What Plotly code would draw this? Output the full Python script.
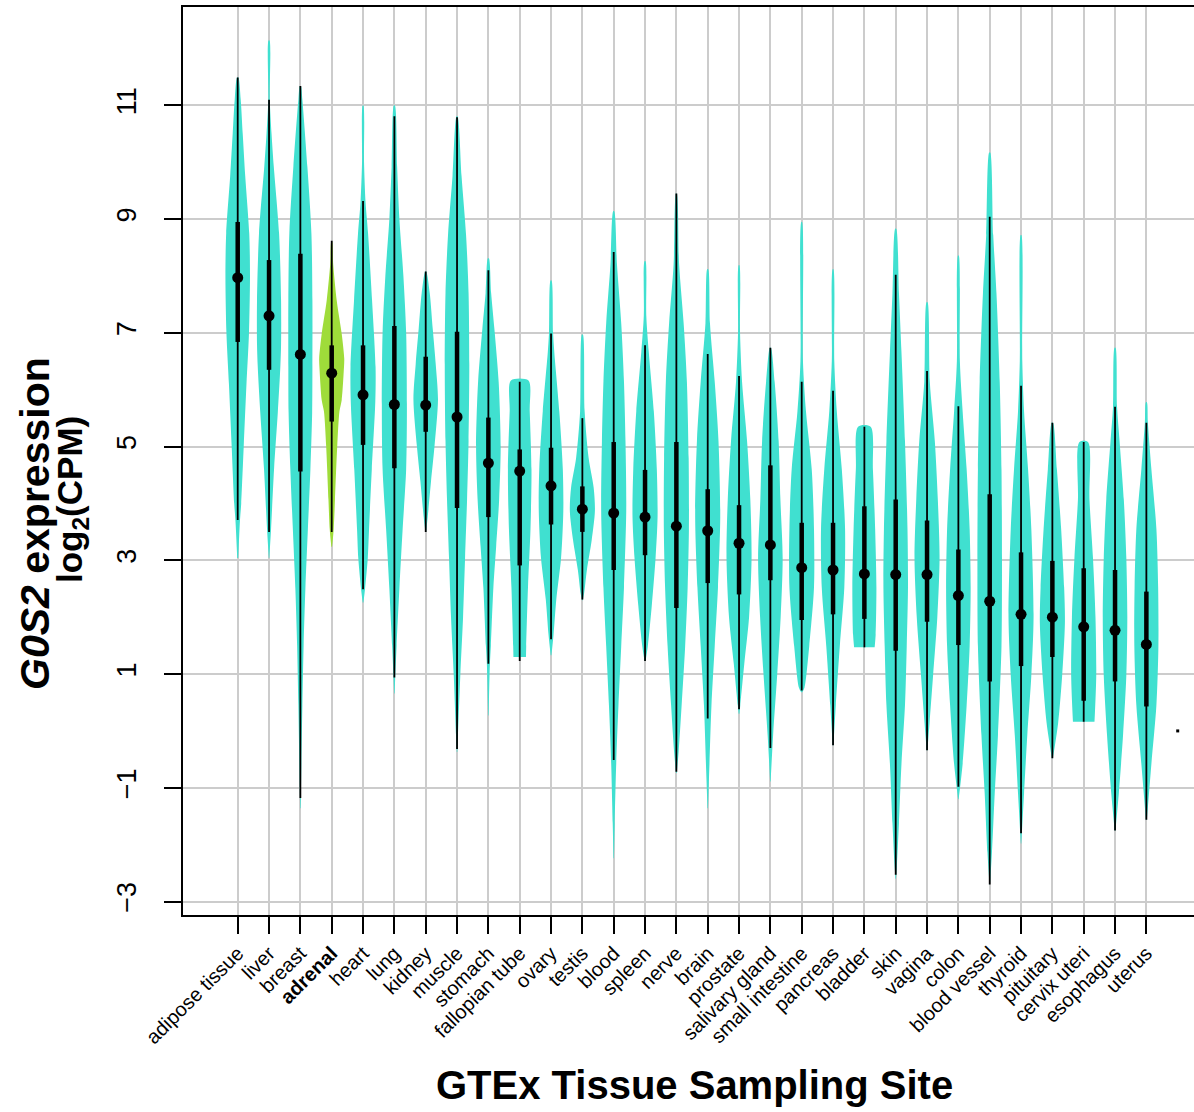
import plotly.graph_objects as go

tissues = ["adipose tissue", "liver", "breast", "adrenal", "heart", "lung", "kidney", "muscle",
           "stomach", "fallopian tube", "ovary", "testis", "blood", "spleen", "nerve", "brain",
           "prostate", "salivary gland", "small intestine", "pancreas", "bladder", "skin",
           "vagina", "colon", "blood vessel", "thyroid", "pituitary", "cervix uteri",
           "esophagus", "uterus"]
highlight = "adrenal"

medians = [7.97, 7.30, 6.62, 6.29, 5.91, 5.74, 5.73, 5.52, 4.71, 4.57, 4.31, 3.90, 3.83, 3.76, 3.60,
           3.52, 3.30, 3.27, 2.87, 2.83, 2.76, 2.75, 2.75, 2.38, 2.28, 2.05, 2.00, 1.83, 1.77, 1.52]
q1 = [6.84, 6.35, 4.56, 5.44, 5.03, 4.62, 5.26, 3.92, 3.76, 2.91, 3.63, 3.50, 2.83, 3.09, 2.16,
      2.60, 2.40, 2.65, 1.95, 2.05, 1.97, 1.41, 1.92, 1.51, 0.87, 1.14, 1.30, 0.53, 0.87, 0.43]
q3 = [8.95, 8.28, 8.39, 6.78, 6.78, 7.12, 6.58, 7.02, 5.51, 4.95, 4.98, 4.30, 5.08, 4.59, 5.08,
      4.25, 3.97, 4.67, 3.66, 3.66, 3.95, 4.07, 3.70, 3.19, 4.16, 3.14, 2.99, 2.86, 2.83, 2.45]
whisker_lo = [3.71, 3.50, -1.18, 3.50, 2.49, 0.94, 3.50, -0.32, 1.18, 1.23, 1.61, 2.31, -0.51, 1.23,
              -0.72, 0.22, 0.38, -0.30, 0.71, -0.25, 1.47, -2.53, -0.34, -0.98, -2.70, -1.80,
              -0.48, 0.16, -1.75, -1.56]
whisker_hi = [11.49, 11.10, 11.34, 8.62, 9.32, 10.81, 8.08, 10.79, 8.10, 6.14, 6.99, 5.50, 8.42,
              6.78, 9.45, 6.63, 6.24, 6.74, 6.14, 5.98, 5.35, 8.02, 6.33, 5.71, 9.04, 6.07, 5.42,
              5.08, 5.70, 5.42]

# violin outlines: expression levels (bottom -> top) and relative density at each level
violin_levels = [
    [3.04, 3.7, 4.0, 5.0, 6.1, 7.0, 8.0, 8.75, 9.76, 10.5, 11.1, 11.49],
    [3.04, 3.55, 4.6, 5.6, 6.4, 6.8, 7.57, 8.75, 9.92, 10.5, 11.1, 12.14],
    [-1.36, -0.6, 0.45, 1.5, 2.5, 3.55, 4.6, 5.6, 6.4, 7.57, 8.75, 9.92, 11.1, 11.34],
    [3.24, 3.55, 4.07, 5.0, 5.62, 5.82, 6.4, 6.55, 6.98, 7.57, 8.2, 8.6],
    [2.26, 2.5, 3.04, 3.55, 4.6, 5.8, 6.4, 7.57, 8.75, 9.3, 10.0, 11.0],
    [0.66, 0.9, 1.5, 2.5, 3.55, 4.6, 5.7, 7.0, 8.0, 9.0, 9.92, 11.0],
    [3.5, 3.76, 4.38, 5.0, 5.83, 6.45, 7.07, 7.7, 8.08],
    [-0.37, -0.07, 0.97, 2.0, 3.04, 4.07, 5.1, 6.45, 7.7, 8.72, 9.76, 10.81],
    [0.27, 1.18, 1.5, 2.52, 3.24, 4.07, 5.0, 6.14, 7.07, 7.7, 8.31],
    [1.3, 1.49, 2.52, 3.55, 4.6, 5.62, 6.16],
    [1.33, 1.69, 2.31, 3.04, 3.87, 4.6, 5.62, 6.66, 7.0, 7.92],
    [2.3, 2.42, 2.83, 3.35, 3.87, 4.28, 4.8, 5.62, 6.97],
    [-2.24, -1.62, -0.58, 0.45, 1.49, 2.52, 3.87, 5.1, 6.14, 7.17, 8.2, 9.14],
    [1.23, 1.49, 2.21, 3.04, 3.76, 4.6, 5.62, 6.66, 7.3, 8.26],
    [-0.74, -0.37, 0.45, 1.49, 2.52, 3.55, 4.8, 6.14, 7.17, 8.2, 9.45],
    [-1.36, -0.58, 0.45, 1.49, 2.52, 3.76, 5.1, 6.14, 7.17, 8.12],
    [0.3, 0.45, 1.18, 2.0, 3.04, 4.07, 5.1, 6.14, 7.0, 8.19],
    [-0.89, -0.07, 0.97, 2.0, 3.04, 4.07, 5.1, 6.14, 6.74],
    [0.68, 0.76, 1.49, 2.52, 3.55, 4.6, 5.62, 6.5, 8.95],
    [-0.25, 0.45, 1.49, 2.52, 3.55, 4.6, 5.62, 6.5, 8.12],
    [1.47, 1.69, 2.52, 3.55, 4.6, 5.35],
    [-2.6, -2.34, -1.62, -0.58, 0.45, 1.49, 2.52, 3.55, 5.1, 6.66, 7.69, 8.83],
    [-0.34, 0.14, 0.97, 2.0, 3.04, 4.07, 5.1, 6.14, 7.54],
    [-1.2, -0.58, 0.45, 1.49, 2.52, 3.55, 4.6, 5.62, 6.5, 8.36],
    [-2.7, -2.14, -1.1, -0.07, 1.49, 3.04, 4.6, 6.14, 7.69, 8.72, 10.17],
    [-1.98, -1.1, -0.07, 0.97, 2.0, 3.55, 4.6, 5.62, 6.5, 8.72],
    [-0.48, 0.14, 0.97, 1.9, 2.52, 3.55, 4.6, 5.42],
    [0.16, 0.97, 2.0, 3.04, 4.07, 5.08],
    [-1.75, -1.1, -0.07, 0.97, 2.0, 3.04, 4.07, 5.1, 5.7, 6.74],
    [-1.56, -0.58, 0.45, 1.49, 2.52, 3.55, 4.6, 5.42, 5.78],
]
violin_density = [
    [0.04, 0.18, 0.28, 0.48, 0.70, 0.90, 0.98, 0.92, 0.60, 0.40, 0.24, 0.05],
    [0.02, 0.16, 0.40, 0.70, 0.90, 0.96, 0.96, 0.80, 0.38, 0.20, 0.06, 0.04],
    [0.02, 0.08, 0.16, 0.26, 0.40, 0.60, 0.80, 0.94, 0.96, 0.96, 0.88, 0.56, 0.16, 0.04],
    [0.03, 0.16, 0.26, 0.44, 0.62, 0.80, 0.98, 1.00, 0.80, 0.40, 0.12, 0.03],
    [0.03, 0.16, 0.38, 0.48, 0.70, 0.98, 1.00, 0.72, 0.40, 0.20, 0.08, 0.03],
    [0.02, 0.06, 0.18, 0.40, 0.66, 0.94, 1.00, 0.94, 0.72, 0.40, 0.22, 0.04],
    [0.03, 0.16, 0.42, 0.70, 0.98, 0.80, 0.56, 0.32, 0.04],
    [0.02, 0.08, 0.26, 0.48, 0.64, 0.80, 0.92, 0.98, 0.92, 0.72, 0.36, 0.04],
    [0.02, 0.12, 0.20, 0.40, 0.62, 0.86, 0.98, 0.82, 0.48, 0.22, 0.04],
    [0.50, 0.52, 0.66, 0.86, 0.94, 0.80, 0.70],
    [0.03, 0.20, 0.42, 0.80, 0.98, 0.94, 0.66, 0.26, 0.16, 0.04],
    [0.03, 0.14, 0.36, 0.74, 1.00, 0.90, 0.50, 0.18, 0.04],
    [0.02, 0.08, 0.20, 0.38, 0.60, 0.82, 1.00, 0.94, 0.82, 0.60, 0.26, 0.04],
    [0.04, 0.22, 0.54, 0.84, 1.00, 0.94, 0.70, 0.30, 0.10, 0.04],
    [0.03, 0.18, 0.42, 0.70, 0.90, 1.00, 0.98, 0.84, 0.58, 0.22, 0.03],
    [0.02, 0.14, 0.30, 0.56, 0.82, 1.00, 0.86, 0.56, 0.18, 0.04],
    [0.03, 0.10, 0.42, 0.80, 1.00, 0.90, 0.64, 0.24, 0.08, 0.03],
    [0.02, 0.22, 0.54, 0.82, 0.98, 0.80, 0.66, 0.34, 0.04],
    [0.04, 0.22, 0.60, 0.98, 0.98, 0.80, 0.34, 0.10, 0.03],
    [0.03, 0.22, 0.54, 0.90, 0.96, 0.70, 0.30, 0.10, 0.03],
    [0.82, 0.90, 0.96, 0.86, 0.68, 0.50],
    [0.02, 0.10, 0.26, 0.46, 0.74, 0.88, 0.98, 0.94, 0.74, 0.46, 0.26, 0.04],
    [0.03, 0.20, 0.48, 0.82, 1.00, 0.86, 0.62, 0.22, 0.04],
    [0.02, 0.34, 0.66, 0.90, 0.98, 0.90, 0.66, 0.34, 0.12, 0.03],
    [0.02, 0.18, 0.40, 0.66, 0.94, 0.98, 0.94, 0.80, 0.54, 0.28, 0.04],
    [0.02, 0.24, 0.50, 0.82, 1.00, 0.82, 0.56, 0.24, 0.10, 0.03],
    [0.04, 0.46, 0.78, 1.00, 0.94, 0.70, 0.36, 0.05],
    [0.86, 1.00, 0.94, 0.74, 0.46, 0.34],
    [0.03, 0.30, 0.64, 0.90, 0.98, 0.90, 0.70, 0.36, 0.16, 0.04],
    [0.04, 0.40, 0.80, 0.96, 0.94, 0.80, 0.40, 0.12, 0.04],
]
stray_x = [31]
stray_y = [0.0]

FONT = "Liberation Sans, Arial, Helvetica, sans-serif"
TURQ = "#40E0D0"
GREEN = "#9FDC3A"
HALF = 0.4  # max half-width of a violin in category units

fig = go.Figure()
positions = list(range(1, len(tissues) + 1))

for pos, name, lv, dn in zip(positions, tissues, violin_levels, violin_density):
    xs = [pos + d * HALF for d in dn] + [pos - d * HALF for d in reversed(dn)]
    ys = list(lv) + list(reversed(lv))
    fig.add_trace(go.Scatter(
        x=xs, y=ys, mode="lines", fill="toself",
        fillcolor=GREEN if name == highlight else TURQ,
        line=dict(width=0, shape="spline", smoothing=0.8),
        hoverinfo="skip", showlegend=False))

wx, wy, bx, by = [], [], [], []
for pos, lo, hi, a, b in zip(positions, whisker_lo, whisker_hi, q1, q3):
    wx += [pos, pos, None]
    wy += [lo, hi, None]
    bx += [pos, pos, None]
    by += [a, b, None]

fig.add_trace(go.Scatter(x=wx, y=wy, mode="lines", line=dict(color="black", width=1.8),
                         hoverinfo="skip", showlegend=False))
fig.add_trace(go.Scatter(x=bx, y=by, mode="lines", line=dict(color="black", width=4.5),
                         hoverinfo="skip", showlegend=False))
fig.add_trace(go.Scatter(x=positions, y=medians, mode="markers",
                         marker=dict(color="black", size=11, line=dict(width=0)),
                         showlegend=False))
fig.add_trace(go.Scatter(x=stray_x, y=stray_y, mode="markers",
                         marker=dict(color="black", size=3, symbol="square", line=dict(width=0)),
                         showlegend=False))

ticktext = [f"<b>{t}</b>" if t == highlight else t for t in tissues]

fig.update_layout(
    width=1194, height=1112,
    margin=dict(l=183, r=0, t=7, b=197),
    paper_bgcolor="white", plot_bgcolor="white",
    showlegend=False,
    font=dict(family=FONT, color="black"),
    xaxis=dict(
        range=[-0.746, 31.52], tickmode="array", tickvals=positions, ticktext=ticktext,
        tickangle=-45, tickfont=dict(size=20, family=FONT, color="black"),
        ticks="outside", ticklen=17, tickwidth=1.5, tickcolor="black",
        showline=True, linecolor="black", linewidth=1.5, mirror=True,
        showgrid=True, gridcolor="#CCCCCC", gridwidth=2, zeroline=False,
    ),
    yaxis=dict(
        range=[-3.237, 12.73], tickmode="array", tickvals=[-3, -1, 1, 3, 5, 7, 9, 11],
        ticktext=["\u22123", "\u22121", "1", "3", "5", "7", "9", "11"],
        tickangle=-90, tickfont=dict(size=27, family=FONT, color="black"),
        ticks="outside", ticklen=17, tickwidth=1.5, tickcolor="black",
        showline=True, linecolor="black", linewidth=1.5, mirror=False,
        showgrid=True, gridcolor="#CCCCCC", gridwidth=2, zeroline=False,
        ticklabelstandoff=17,
    ),
    annotations=[
        dict(text="<b><i>G0S2</i> expression</b>", xref="paper", yref="paper",
             x=(35 - 183) / 1011, y=(915 - 524) / 908, textangle=-90, showarrow=False,
             xanchor="center", yanchor="middle", font=dict(size=41, family=FONT, color="black")),
        dict(text="<b>log<sub>2</sub>(CPM)</b>", xref="paper", yref="paper",
             x=(72 - 183) / 1011, y=(915 - 500) / 908, textangle=-90, showarrow=False,
             xanchor="center", yanchor="middle", font=dict(size=35, family=FONT, color="black")),
        dict(text="<b>GTEx Tissue Sampling Site</b>", xref="paper", yref="paper",
             x=(694.5 - 183) / 1011, y=(915 - 1085) / 908, showarrow=False,
             xanchor="center", yanchor="middle", font=dict(size=40, family=FONT, color="black")),
    ],
)

fig.write_html("out.html")
